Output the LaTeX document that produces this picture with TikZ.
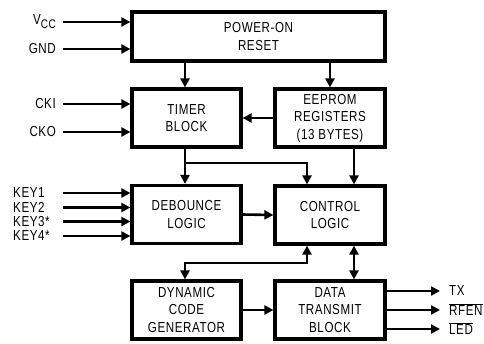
\documentclass[tikz,border=0pt]{standalone}
\usepackage{fontspec}
\setmainfont{Liberation Sans}[FakeStretch=0.8,LetterSpace=4]
\usetikzlibrary{arrows.meta,calc}
\begin{document}
\begin{tikzpicture}[x=1pt,y=-1pt,
  every node/.style={font=\fontsize{14.5}{17.5}\selectfont},
  blk/.style={draw,line width=3.2pt,inner sep=0pt,align=center,minimum height=58pt},
  lbl/.style={inner sep=0pt},
  conn/.style={line width=2.6pt},
  arr/.style={conn,-{Triangle[length=9pt,width=9pt]}},
  dbl/.style={conn,{Triangle[length=9pt,width=9pt]}-{Triangle[length=9pt,width=9pt]}}]
\useasboundingbox (0,0) rectangle (484,343);
% blocks
\node[blk,minimum width=253pt,minimum height=49pt] (por) at (258.5,36.5) {POWER-ON\\RESET};
\node[blk,minimum width=109pt] (timer) at (186.5,118) {TIMER\\BLOCK};
\node[blk,minimum width=110pt] (eep) at (330,118) {EEPROM\\REGISTERS\\(13 BYTES)};
\node[blk,minimum width=109pt] (deb) at (186.5,214.5) {DEBOUNCE\\LOGIC};
\node[blk,minimum width=110pt] (ctl) at (330,215) {CONTROL\\LOGIC};
\node[blk,minimum width=109pt] (dyn) at (186.5,310) {DYNAMIC\\CODE\\GENERATOR};
\node[blk,minimum width=110pt] (dat) at (330,310) {DATA\\TRANSMIT\\BLOCK};
% input points
\coordinate (ivcc) at (63,22);
\coordinate (ignd) at (63,49);
\coordinate (icki) at (63,104);
\coordinate (icko) at (63,132);
\coordinate (ik1) at (63,193);
\coordinate (ik2) at (63,207.5);
\coordinate (ik3) at (63,221.5);
\coordinate (ik4) at (63,236);
\node[lbl,anchor=east] (lvcc) at ([xshift=-7]ivcc) {V\raisebox{-4pt}{\fontsize{12.5}{12.5}\selectfont CC}};
\node[lbl,anchor=east] (lgnd) at ([xshift=-7]ignd) {GND};
\node[lbl,anchor=east] (lcki) at ([xshift=-7]icki) {CKI};
\node[lbl,anchor=east] (lcko) at ([xshift=-7]icko) {CKO};
\node[lbl,anchor=west] (lk1) at (13,193) {KEY1};
\node[lbl,anchor=west] (lk2) at (13,207.5) {KEY2};
\node[lbl,anchor=west] (lk3) at (13,221.5) {KEY3*};
\node[lbl,anchor=west] (lk4) at (13,236) {KEY4*};
\draw[arr] (ivcc) -- (ivcc -| por.west);
\draw[arr] (ignd) -- (ignd -| por.west);
\draw[arr] (icki) -- (icki -| timer.west);
\draw[arr] (icko) -- (icko -| timer.west);
\foreach \k in {ik1,ik2,ik3,ik4} \draw[arr] (\k) -- (\k -| deb.west);
% internal connectors
\draw[arr] ([xshift=-1.5]timer.north |- por.south) -- ([xshift=-1.5]timer.north);
\draw[arr] (eep.north |- por.south) -- (eep.north);
\draw[arr] (eep.west) -- (timer.west -| timer.east);
\draw[arr] ([xshift=-1.5]timer.south) -- ([xshift=-1.5]deb.north);
\coordinate (br) at (185,163);
\draw[arr] (br) -| ([xshift=-23]ctl.north);
\draw[arr] ([xshift=24]eep.south) -- ([xshift=24]ctl.north);
\draw[arr] (deb.east) -- (ctl.west);
\coordinate (jn) at (185,263);
\draw[dbl] ([xshift=-23]ctl.south) |- (jn) -- ([xshift=-1.5]dyn.north);
\draw[dbl] ([xshift=24]ctl.south) -- ([xshift=24]dat.north);
\draw[arr] (dyn.east) -- (dat.west);
% outputs
\coordinate (otx) at (440,291);
\coordinate (orf) at (440,310);
\coordinate (old) at (440,329);
\draw[arr] (otx -| dat.east) -- (otx);
\draw[arr] (orf -| dat.east) -- (orf);
\draw[arr] (old -| dat.east) -- (old);
\node[lbl,anchor=west] (ltx) at (449,291) {TX};
\node[lbl,anchor=west] (lrf) at (449,310) {$\overline{\mbox{RFEN}}$};
\node[lbl,anchor=west] (lld) at (449,329) {$\overline{\mbox{LED}}$};
\end{tikzpicture}
\end{document}
